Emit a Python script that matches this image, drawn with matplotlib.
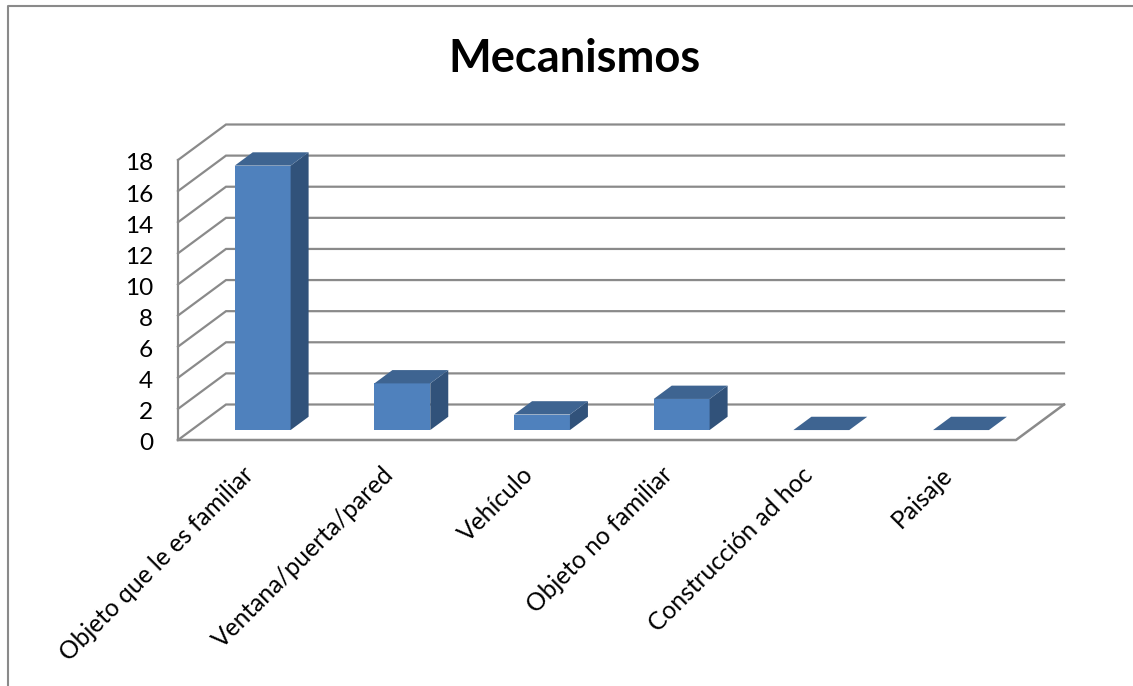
import matplotlib
matplotlib.use('Agg')
import matplotlib.pyplot as plt
from matplotlib.lines import Line2D
from matplotlib.transforms import ScaledTranslation

categories = ['Objeto que le es familiar', 'Ventana/puerta/pared', 'Vehículo',
              'Objeto no familiar', 'Construcción ad hoc', 'Paisaje']
values = [17, 3, 1, 2, 0, 0]
y_ticks = [0, 2, 4, 6, 8, 10, 12, 14, 16, 18]

plt.rcParams['font.family'] = ['Lato', 'DejaVu Sans']

W, H = 1133, 686
GRAY = '#8a8a8a'
FRONT = '#4f81bd'
TOP = '#3e6491'
SIDE = '#31527a'

# fake 3d: depth 0..1 shifts a point right and up in data units
SHIFT_X = 48 / (838 / 6)
SHIFT_Y = 35.5 / (280 / 18)


def project(x, depth, v):
    return x + depth * SHIFT_X, v + depth * SHIFT_Y


fig = plt.figure(figsize=(W / 100, H / 100), dpi=100)
ax = fig.add_axes([178 / W, 1 - 440 / H, 838 / W, 280 / H])
ax.set_xlim(0, 6)
ax.set_ylim(0, 18)
for s in ax.spines.values():
    s.set_visible(False)
ax.patch.set_visible(False)

# walls and floor
for t in y_ticks:
    x0, y0 = project(0, 0, t)
    x1, y1 = project(0, 1, t)
    x2, y2 = project(6, 1, t)
    ax.plot([x0, x1, x2], [y0, y1, y2], color=GRAY, lw=1.6, clip_on=False,
            zorder=1, solid_joinstyle='miter')
ax.plot([0, 0], [0, 18], color=GRAY, lw=1.6, clip_on=False, zorder=1)
x1, y1 = project(6, 1, 0)
ax.plot([0, 6, x1], [0, 0, y1], color=GRAY, lw=1.8, clip_on=False, zorder=1)

# bars
half = 0.2
d0, d1 = 0.28, 0.655
for i, v in enumerate(values):
    c = i + 0.51
    left, right = c - half, c + half
    corners = [project(left, d0, 0), project(right, d0, 0), project(right, d0, v), project(left, d0, v)]
    top = [project(left, d0, v), project(right, d0, v), project(right, d1, v), project(left, d1, v)]
    side = [project(right, d0, 0), project(right, d1, 0), project(right, d1, v), project(right, d0, v)]
    if v > 0:
        ax.fill(*zip(*corners), color=FRONT, lw=0, clip_on=False, zorder=3)
        ax.fill(*zip(*side), color=SIDE, lw=0, clip_on=False, zorder=3)
    ax.fill(*zip(*top), color=TOP, lw=0, clip_on=False, zorder=3)

ax.set_yticks(y_ticks)
ax.set_yticklabels([str(t) for t in y_ticks], fontsize=17.6)
ax.tick_params(axis='y', length=0, pad=18, labelcolor='black')
ax.set_xticks([i + 0.5 for i in range(len(categories))])
ax.set_xticklabels(categories, fontsize=17.7, rotation=45, ha='right', rotation_mode='anchor')
ax.tick_params(axis='x', length=0, pad=18, labelcolor='black')

# labels sit a bit off from where the tick anchors put them
nudge = ScaledTranslation(-6 / 100, 2 / 100, fig.dpi_scale_trans)
for lab in ax.get_xticklabels():
    lab.set_transform(lab.get_transform() + nudge)
nudge_y = ScaledTranslation(0, -2 / 100, fig.dpi_scale_trans)
for lab in ax.get_yticklabels():
    lab.set_transform(lab.get_transform() + nudge_y)

fig.text(575 / W, 1 - 59.5 / H, 'Mecanismos', fontsize=32.6, fontweight='bold', ha='center', va='center', color='black')

# chart frame, runs off the crop on the right and bottom
fig.add_artist(Line2D([7.5 / W, 7.5 / W, 1], [0, 1 - 5.5 / H, 1 - 5.5 / H], color=GRAY, lw=1.5))

fig.savefig('out.png', dpi=100)
